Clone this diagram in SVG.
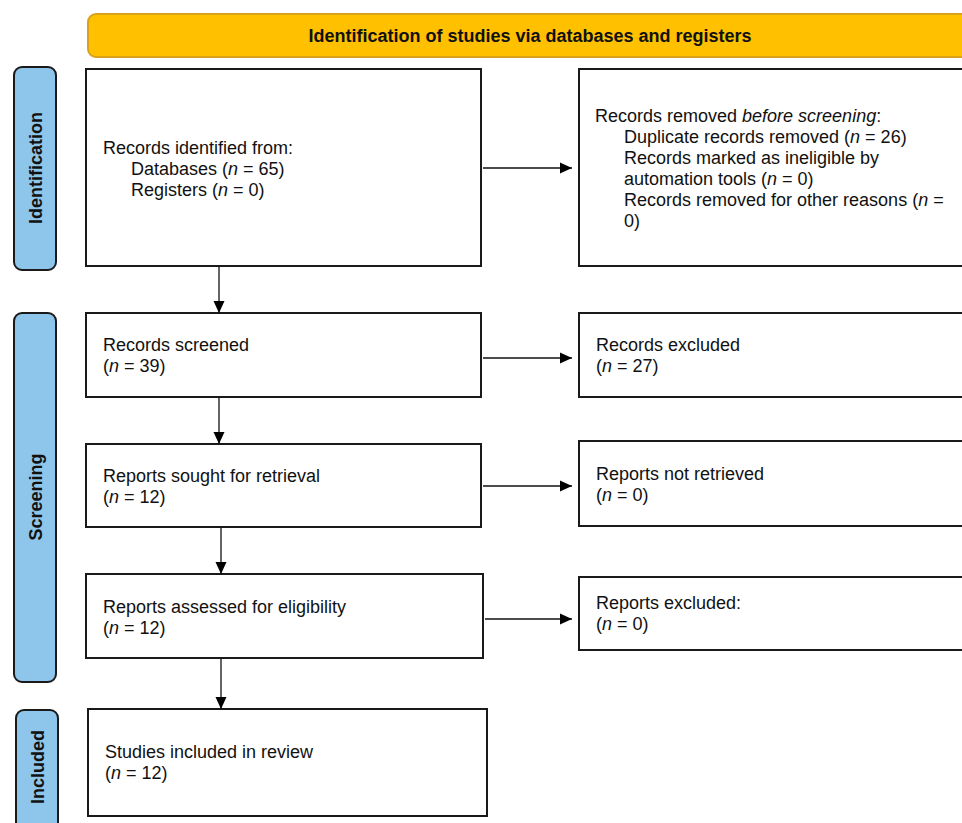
<svg xmlns="http://www.w3.org/2000/svg" width="962" height="823" viewBox="0 0 962 823">
<defs>
<marker id="ah" markerWidth="12" markerHeight="12" refX="12" refY="6" orient="auto" markerUnits="userSpaceOnUse">
<path d="M0,0.5 L12,6 L0,11.5 Z" fill="#000"/>
</marker>
<style>
.box{fill:#fff;stroke:#1a1a1a;stroke-width:2}
.side{fill:#8EC5EA;stroke:#1a1a1a;stroke-width:2}
.t{font-family:"Liberation Sans",Arial,sans-serif;font-size:18px;fill:#111}
.b{font-family:"Liberation Sans",Arial,sans-serif;font-size:18px;font-weight:bold;fill:#111}
.c{stroke:#111;stroke-width:1.3;fill:none;marker-end:url(#ah)}
</style>
</defs>
<rect width="962" height="823" fill="#fff"/>
<g id="header">
<rect x="88" y="14" width="890" height="43" rx="8" fill="#FFC000" stroke="#D9A21B" stroke-width="2"/>
<text class="b" x="530" y="42" text-anchor="middle">Identification of studies via databases and registers</text>
</g>
<g id="side-identification">
<rect class="side" x="14" y="67" width="42" height="203" rx="8"/>
<text class="b" transform="translate(42,168) rotate(-90)" text-anchor="middle">Identification</text>
</g>
<g id="side-screening">
<rect class="side" x="14" y="313" width="42" height="369" rx="8"/>
<text class="b" transform="translate(42,497) rotate(-90)" text-anchor="middle">Screening</text>
</g>
<g id="side-included">
<rect class="side" x="16" y="710" width="42" height="130" rx="8"/>
<text class="b" transform="translate(44,767) rotate(-90)" text-anchor="middle">Included</text>
</g>
<g id="records-identified">
<rect class="box" x="86" y="69" width="395" height="197"/>
<text class="t" x="103" y="154">Records identified from:</text>
<text class="t" x="131" y="175">Databases (<tspan font-style="italic">n</tspan> = 65)</text>
<text class="t" x="131" y="196">Registers (<tspan font-style="italic">n</tspan> = 0)</text>
</g>
<g id="records-removed">
<rect class="box" x="579" y="69" width="400" height="197"/>
<text class="t" x="595" y="122">Records removed <tspan font-style="italic">before screening</tspan>:</text>
<text class="t" x="624" y="143">Duplicate records removed (<tspan font-style="italic">n</tspan> = 26)</text>
<text class="t" x="624" y="164">Records marked as ineligible by</text>
<text class="t" x="624" y="185">automation tools (<tspan font-style="italic">n</tspan> = 0)</text>
<text class="t" x="624" y="206">Records removed for other reasons (<tspan font-style="italic">n</tspan> =</text>
<text class="t" x="624" y="227">0)</text>
</g>
<g id="records-screened">
<rect class="box" x="86" y="313" width="395" height="84"/>
<text class="t" x="103" y="351">Records screened</text>
<text class="t" x="103" y="372">(<tspan font-style="italic">n</tspan> = 39)</text>
</g>
<g id="records-excluded">
<rect class="box" x="579" y="313" width="400" height="84"/>
<text class="t" x="596" y="351">Records excluded</text>
<text class="t" x="596" y="372">(<tspan font-style="italic">n</tspan> = 27)</text>
</g>
<g id="reports-sought">
<rect class="box" x="86" y="444" width="395" height="83"/>
<text class="t" x="103" y="482">Reports sought for retrieval</text>
<text class="t" x="103" y="503">(<tspan font-style="italic">n</tspan> = 12)</text>
</g>
<g id="reports-not-retrieved">
<rect class="box" x="579" y="441" width="400" height="85"/>
<text class="t" x="596" y="480">Reports not retrieved</text>
<text class="t" x="596" y="501">(<tspan font-style="italic">n</tspan> = 0)</text>
</g>
<g id="reports-assessed">
<rect class="box" x="86" y="574" width="397" height="84"/>
<text class="t" x="103" y="613">Reports assessed for eligibility</text>
<text class="t" x="103" y="634">(<tspan font-style="italic">n</tspan> = 12)</text>
</g>
<g id="reports-excluded">
<rect class="box" x="579" y="577" width="400" height="73"/>
<text class="t" x="596" y="609">Reports excluded:</text>
<text class="t" x="596" y="630">(<tspan font-style="italic">n</tspan> = 0)</text>
</g>
<g id="studies-included">
<rect class="box" x="88" y="709" width="399" height="107"/>
<text class="t" x="105" y="758">Studies included in review</text>
<text class="t" x="105" y="779">(<tspan font-style="italic">n</tspan> = 12)</text>
</g>
<g id="connectors">
<line class="c" x1="483" y1="168" x2="572" y2="168"/>
<line class="c" x1="219" y1="266" x2="219" y2="313"/>
<line class="c" x1="483" y1="358" x2="572" y2="358"/>
<line class="c" x1="219" y1="397" x2="219" y2="444"/>
<line class="c" x1="483" y1="486" x2="572" y2="486"/>
<line class="c" x1="221" y1="527" x2="221" y2="574"/>
<line class="c" x1="485" y1="619" x2="572" y2="619"/>
<line class="c" x1="221" y1="658" x2="221" y2="709"/>
</g>
</svg>
